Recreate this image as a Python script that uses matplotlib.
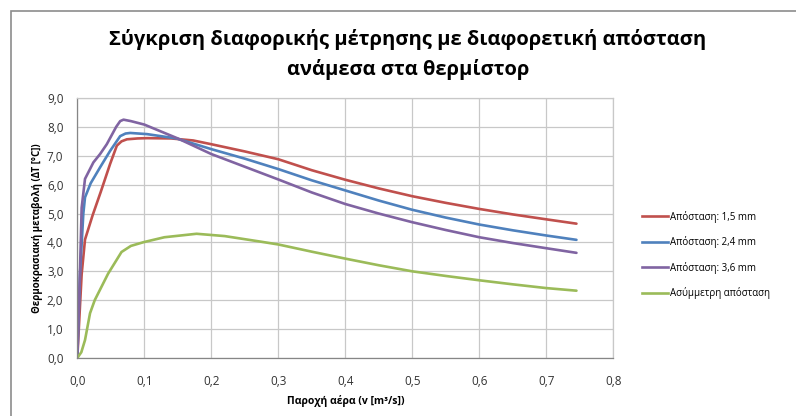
import matplotlib
matplotlib.use("Agg")
import matplotlib.pyplot as plt
from matplotlib.ticker import MultipleLocator, FuncFormatter
from matplotlib.patches import Rectangle
from matplotlib.lines import Line2D

plt.rcParams['font.family'] = ['Open Sans', 'DejaVu Sans']

# Air flow (m^3/s) and temperature difference (°C) for each thermistor spacing
x_15 = [0, 0.004, 0.0065, 0.0115, 0.023, 0.035, 0.049, 0.059, 0.066, 0.074, 0.09, 0.104, 0.14,
        0.173, 0.2, 0.25, 0.3, 0.35, 0.4, 0.45, 0.5, 0.55, 0.6, 0.65, 0.7, 0.745]
y_15 = [0, 1.8, 2.9, 4.1, 4.95, 5.75, 6.72, 7.35, 7.5, 7.57, 7.6, 7.61, 7.6,
        7.53, 7.4, 7.15, 6.88, 6.5, 6.17, 5.87, 5.6, 5.37, 5.16, 4.97, 4.8, 4.65]

x_24 = [0, 0.004, 0.009, 0.0115, 0.02, 0.034, 0.049, 0.064, 0.072, 0.079, 0.104, 0.148, 0.2,
        0.25, 0.3, 0.35, 0.4, 0.45, 0.5, 0.55, 0.6, 0.65, 0.7, 0.745]
y_24 = [0, 2.9, 5.0, 5.56, 6.05, 6.6, 7.17, 7.68, 7.77, 7.79, 7.75, 7.6, 7.23,
        6.9, 6.54, 6.15, 5.8, 5.45, 5.13, 4.86, 4.62, 4.42, 4.24, 4.09]

x_36 = [0, 0.004, 0.0065, 0.0115, 0.024, 0.034, 0.044, 0.058, 0.064, 0.069, 0.08, 0.1, 0.15,
        0.2, 0.25, 0.3, 0.35, 0.4, 0.45, 0.5, 0.55, 0.6, 0.65, 0.7, 0.745]
y_36 = [0, 3.0, 5.2, 6.2, 6.77, 7.06, 7.4, 8.0, 8.2, 8.25, 8.2, 8.08, 7.6,
        7.06, 6.62, 6.18, 5.73, 5.33, 5.0, 4.7, 4.43, 4.18, 3.98, 3.8, 3.64]

x_asym = [0, 0.006, 0.0115, 0.019, 0.026, 0.046, 0.066, 0.08, 0.099, 0.13, 0.178, 0.22,
          0.273, 0.3, 0.35, 0.4, 0.45, 0.5, 0.55, 0.6, 0.65, 0.7, 0.745]
y_asym = [0, 0.2, 0.62, 1.55, 2.0, 2.92, 3.67, 3.88, 4.01, 4.18, 4.3, 4.22,
          4.03, 3.93, 3.68, 3.44, 3.21, 3.0, 2.84, 2.69, 2.55, 2.42, 2.33]

labels = ["Απόσταση: 1,5 mm", "Απόσταση: 2,4 mm", "Απόσταση: 3,6 mm", "Ασύμμετρη απόσταση"]
colors = ["#C0504D", "#4F81BD", "#8064A2", "#9BBB59"]
series = [(x_15, y_15), (x_24, y_24), (x_36, y_36), (x_asym, y_asym)]

fig = plt.figure(figsize=(7.96, 4.16), dpi=100)
fig.patch.set_facecolor("white")

# chart frame
fig.add_artist(Rectangle((11 / 796, -0.05), 1.0, 1 - 11 / 416 + 0.05,
                         transform=fig.transFigure, fill=False,
                         edgecolor="#8C8C8C", linewidth=1.2))

ax = fig.add_axes([77.3 / 796, 1 - 358 / 416, (613.3 - 77.3) / 796, (358 - 98) / 416])

for (xs, ys), c, lab in zip(series, colors, labels):
    ax.plot(xs, ys, color=c, linewidth=1.9, label=lab, solid_joinstyle="round",
            solid_capstyle="round")

ax.set_xlim(0, 0.8)
ax.set_ylim(0, 9)
ax.xaxis.set_major_locator(MultipleLocator(0.1))
ax.yaxis.set_major_locator(MultipleLocator(1.0))
fmt = FuncFormatter(lambda v, p: f"{v:.1f}".replace(".", ","))
ax.xaxis.set_major_formatter(fmt)
ax.yaxis.set_major_formatter(fmt)
ax.grid(True, color="#C8C8C8", linewidth=0.9)
ax.set_axisbelow(True)
for s in ["top", "right"]:
    ax.spines[s].set_color("#C8C8C8")
    ax.spines[s].set_linewidth(0.9)
for s in ["left", "bottom"]:
    ax.spines[s].set_color("#868686")
    ax.spines[s].set_linewidth(0.9)
ax.tick_params(axis="both", length=0, labelsize=8.5, colors="#333333", pad=10)
ax.tick_params(axis="x", pad=12)

ax.set_xlabel("Παροχή αέρα (v [m³/s])", fontsize=7.5, fontweight="bold", labelpad=5)
ax.set_ylabel("Θερμοκρασιακή μεταβολή (ΔΤ [°C])", fontsize=7, fontweight="bold", labelpad=3)

fig.text(408 / 796, 1 - 40 / 416, "Σύγκριση διαφορικής μέτρησης με διαφορετική απόσταση",
         ha="center", va="center", fontsize=14.5, fontweight="bold")
fig.text(408 / 796, 1 - 69 / 416, "ανάμεσα στα θερμίστορ",
         ha="center", va="center", fontsize=14.5, fontweight="bold")

handles = [Line2D([0], [0], color=c, linewidth=1.9) for c in colors]
fig.legend(handles, labels, loc="upper left", bbox_to_anchor=(638 / 796, 1 - 207 / 416),
           frameon=False, fontsize=7, handlelength=2.7, handletextpad=0.15,
           labelspacing=1.38, borderaxespad=0)

fig.savefig("out.png", dpi=100)
